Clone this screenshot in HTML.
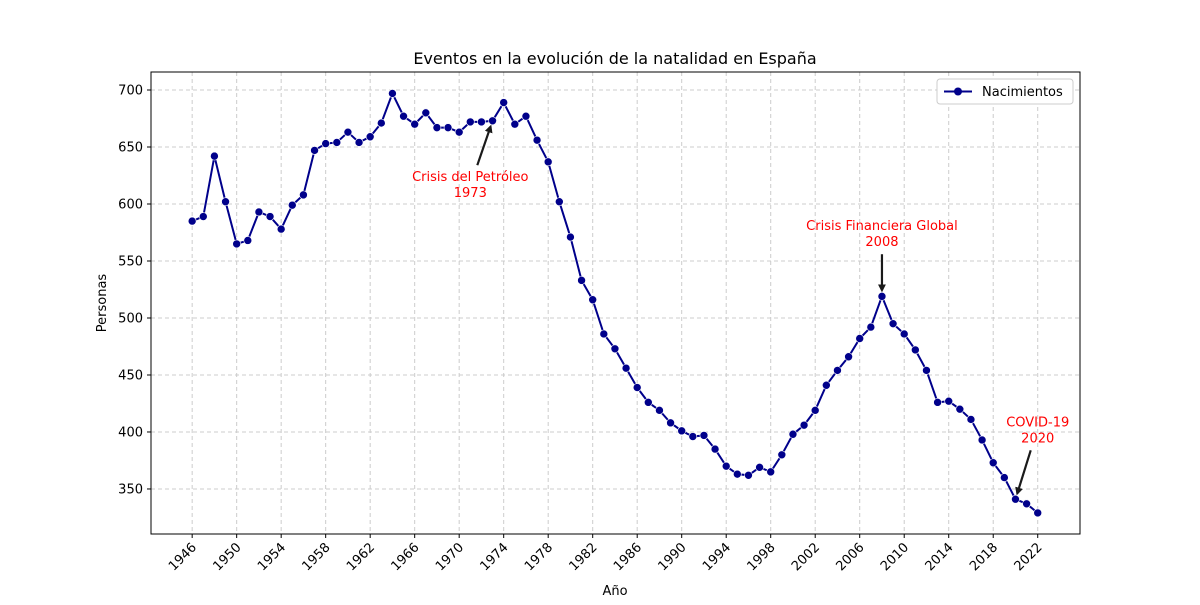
<!DOCTYPE html>
<html><head><meta charset="utf-8"><style>
body{margin:0;background:#fff;font-family:"Liberation Sans","DejaVu Sans",sans-serif}
</style></head><body>
<svg id="chart" width="1200" height="600" xmlns="http://www.w3.org/2000/svg" font-family="DejaVu Sans, Liberation Sans, sans-serif">
<rect width="1200" height="600" fill="#fff"/>
<text x="615" y="64" font-size="16" text-anchor="middle">Eventos en la evolución de la natalidad en España</text>
<g id="grid"></g><g id="series"></g><g id="axes"></g>
<text x="615" y="595" font-size="13" text-anchor="middle">Año</text>
<text transform="translate(106,303) rotate(-90)" font-size="13" text-anchor="middle">Personas</text>
<g>
<rect x="937" y="79" width="136" height="25" rx="3" fill="#fff" stroke="#ccc"/>
<line x1="944" y1="91.5" x2="972" y2="91.5" stroke="#00008b" stroke-width="2"/>
<circle cx="958" cy="91.5" r="4" fill="#00008b"/>
<text x="982" y="96" font-size="13">Nacimientos</text>
</g>
</svg>
<script>
const years=[];for(let y=1946;y<=2022;y++)years.push(y);
const births=[585,589,642,602,565,568,593,589,578,599,608,647,653,654,663,654,659,671,697,677,670,680,667,667,663,672,672,673,689,670,677,656,637,602,571,533,516,486,473,456,439,426,419,408,401,396,397,385,370,363,362,369,365,380,398,406,419,441,454,466,482,492,519,495,486,472,454,426,427,420,411,393,373,360,341,337,329];
const xTicks=[1946,1950,1954,1958,1962,1966,1970,1974,1978,1982,1986,1990,1994,1998,2002,2006,2010,2014,2018,2022];
const yTicks=[350,400,450,500,550,600,650,700];
const events=[{year:1973,label:"Crisis del Petróleo",sub:"1973",tx:1971,ty:620},{year:2008,label:"Crisis Financiera Global",sub:"2008",tx:2008,ty:577},{year:2020,label:"COVID-19",sub:"2020",tx:2022,ty:405}];
const L=151,R=1080,T=72,B=534,X0=1942.3,X1=2025.8,Y0=310.5,Y1=715.8;
const X=v=>L+(v-X0)/(X1-X0)*(R-L), Y=v=>B-(v-Y0)/(Y1-Y0)*(B-T);
const NS="http://www.w3.org/2000/svg";
function mk(t,a,p){const e=document.createElementNS(NS,t);for(const k in a)e.setAttribute(k,a[k]);p.appendChild(e);return e;}
const g=document.getElementById('grid'),s=document.getElementById('series'),ax=document.getElementById('axes');
xTicks.forEach(t=>{const x=X(t);
const l=mk('line',{x1:x,x2:x,y1:T,y2:B,stroke:'#cccccc','stroke-dasharray':'4,3'},g);

mk('line',{x1:x,x2:x,y1:B,y2:B+4,stroke:'#000'},ax);
const tx=mk('text',{transform:`translate(${x+5},${B+14}) rotate(-45)`,'font-size':13,'text-anchor':'end'},ax);tx.textContent=t;
});
yTicks.forEach(t=>{const y=Y(t);
const l=mk('line',{x1:L,x2:R,y1:y,y2:y,stroke:'#cccccc','stroke-dasharray':'4,3'},g);

mk('line',{x1:L-4,x2:L,y1:y,y2:y,stroke:'#000'},ax);
const tx=mk('text',{x:L-8,y:y+4.5,'font-size':13,'text-anchor':'end'},ax);tx.textContent=t;
});
const fr=mk('rect',{x:L,y:T,width:R-L,height:B-T,fill:'none',stroke:'#000'},ax);

const pl=mk('polyline',{points:years.map((y,i)=>X(y)+','+Y(births[i])).join(' '),fill:'none',stroke:'#00008b','stroke-width':2},s);

years.forEach((y,i)=>{const c=mk('circle',{cx:X(y),cy:Y(births[i]),r:4,fill:'#00008b',stroke:'#fff','stroke-width':0.6},s);
});
mk('defs',{},s).innerHTML='<marker id="ah" markerWidth="8" markerHeight="8" refX="6" refY="4" orient="auto" markerUnits="userSpaceOnUse"><path d="M0,0 L8,4 L0,8 z" fill="#1a1a1a"/></marker>';
events.forEach(e=>{const i=years.indexOf(e.year);const px=X(e.year),py=Y(births[i]);
const tx=X(e.tx),ty=Y(e.ty);
const t=mk('text',{x:tx,y:ty,'font-size':13,fill:'red','text-anchor':'middle'},s);t.textContent=e.label;

const t2=mk('text',{x:tx,y:ty+16,'font-size':13,fill:'red','text-anchor':'middle'},s);t2.textContent=e.sub;

let sx=tx,sy;
if(e.year===2008){sy=ty+24;}else if(e.year===1973){sx=tx+7;sy=ty-16;}else{sx=tx-7;sy=ty+24;}
const dx=px-sx,dy=py-sy,d=Math.hypot(dx,dy);
const a=mk('line',{x1:sx,y1:sy,x2:px-dx/d*6,y2:py-dy/d*6,stroke:'#1a1a1a','stroke-width':2.2,'marker-end':'url(#ah)'},s);
});
</script>
</body></html>
